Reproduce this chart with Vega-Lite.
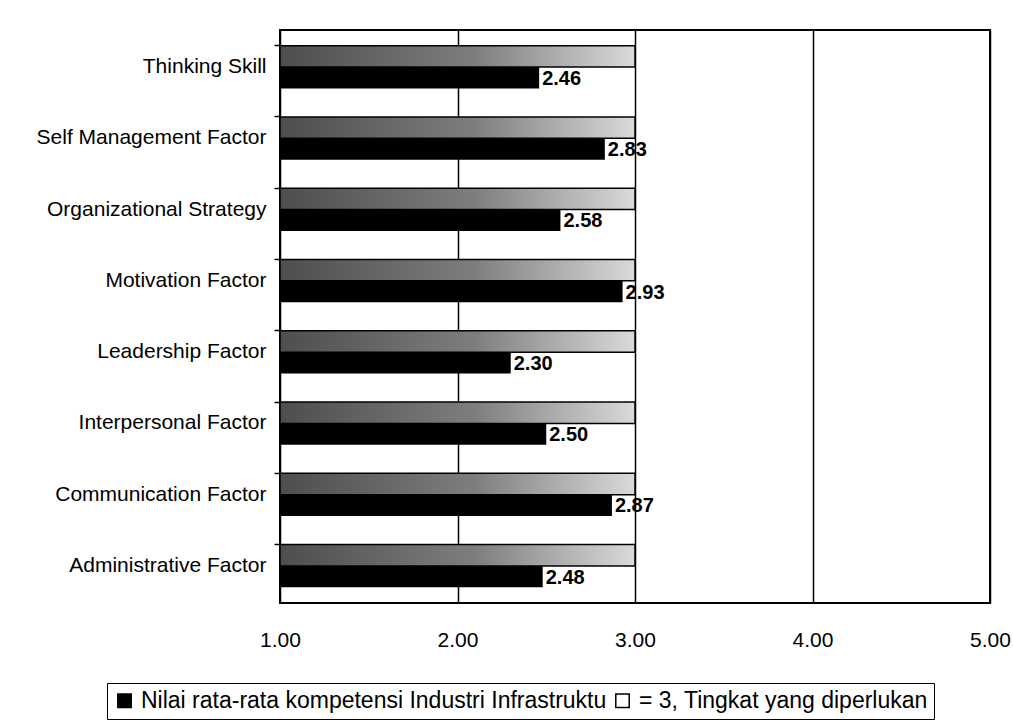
{
  "$schema": "https://vega.github.io/schema/vega-lite/v6.json",
  "autosize": "none",
  "width": 710,
  "height": 573,
  "padding": {"left": 280, "top": 30, "right": 23, "bottom": 117},
  "background": "white",
  "config": {
    "font": "Liberation Sans",
    "view": {"stroke": "black", "strokeWidth": 2},
    "axis": {"labelColor": "black", "labelFont": "Liberation Sans"}
  },
  "data": {
    "values": [
      {"factor": "Thinking Skill", "series": "= 3, Tingkat yang diperlukan", "value": 3},
      {"factor": "Thinking Skill", "series": "Nilai rata-rata kompetensi Industri Infrastruktu", "value": 2.46},
      {"factor": "Self Management Factor", "series": "= 3, Tingkat yang diperlukan", "value": 3},
      {"factor": "Self Management Factor", "series": "Nilai rata-rata kompetensi Industri Infrastruktu", "value": 2.83},
      {"factor": "Organizational Strategy", "series": "= 3, Tingkat yang diperlukan", "value": 3},
      {"factor": "Organizational Strategy", "series": "Nilai rata-rata kompetensi Industri Infrastruktu", "value": 2.58},
      {"factor": "Motivation Factor", "series": "= 3, Tingkat yang diperlukan", "value": 3},
      {"factor": "Motivation Factor", "series": "Nilai rata-rata kompetensi Industri Infrastruktu", "value": 2.93},
      {"factor": "Leadership Factor", "series": "= 3, Tingkat yang diperlukan", "value": 3},
      {"factor": "Leadership Factor", "series": "Nilai rata-rata kompetensi Industri Infrastruktu", "value": 2.30},
      {"factor": "Interpersonal Factor", "series": "= 3, Tingkat yang diperlukan", "value": 3},
      {"factor": "Interpersonal Factor", "series": "Nilai rata-rata kompetensi Industri Infrastruktu", "value": 2.50},
      {"factor": "Communication Factor", "series": "= 3, Tingkat yang diperlukan", "value": 3},
      {"factor": "Communication Factor", "series": "Nilai rata-rata kompetensi Industri Infrastruktu", "value": 2.87},
      {"factor": "Administrative Factor", "series": "= 3, Tingkat yang diperlukan", "value": 3},
      {"factor": "Administrative Factor", "series": "Nilai rata-rata kompetensi Industri Infrastruktu", "value": 2.48}
    ]
  },
  "encoding": {
    "y": {
      "field": "factor",
      "type": "nominal",
      "sort": null,
      "scale": {"paddingInner": 0.4, "paddingOuter": 0.22},
      "axis": {
        "title": null,
        "labelFontSize": 21,
        "labelLimit": 0,
        "labelPadding": 8,
        "tickSize": 6,
        "tickColor": "black",
        "tickWidth": 1.5,
        "bandPosition": 0,
        "domain": false,
        "grid": false
      }
    },
    "yOffset": {
      "field": "series",
      "type": "nominal",
      "scale": {
        "domain": ["= 3, Tingkat yang diperlukan", "Nilai rata-rata kompetensi Industri Infrastruktu"],
        "paddingInner": 0,
        "paddingOuter": 0
      }
    },
    "x": {
      "field": "value",
      "type": "quantitative",
      "scale": {"domain": [1, 5], "zero": false, "nice": false},
      "axis": {
        "title": null,
        "values": [1, 2, 3, 4, 5],
        "format": ".2f",
        "labelFontSize": 21,
        "labelPadding": 26,
        "ticks": false,
        "tickSize": 0,
        "domain": false,
        "grid": true,
        "gridColor": "black",
        "gridWidth": 1.5,
        "gridOpacity": 1,
        "labelFlush": false
      }
    }
  },
  "layer": [
    {
      "transform": [{"filter": "datum.series === '= 3, Tingkat yang diperlukan'"}],
      "mark": {"type": "bar", "stroke": "black", "strokeWidth": 1.5},
      "encoding": {
        "x2": {"datum": 1},
        "fill": {
          "value": {
            "gradient": "linear",
            "x1": 0, "y1": 0, "x2": 1, "y2": 0,
            "stops": [
              {"offset": 0, "color": "#4e4e4e"},
              {"offset": 0.55, "color": "#7e7e7e"},
              {"offset": 1, "color": "#dadada"}
            ]
          }
        }
      }
    },
    {
      "transform": [{"filter": "datum.series === 'Nilai rata-rata kompetensi Industri Infrastruktu'"}],
      "mark": {"type": "bar"},
      "encoding": {
        "x2": {"datum": 1},
        "color": {
          "field": "series",
          "type": "nominal",
          "scale": {
            "domain": ["Nilai rata-rata kompetensi Industri Infrastruktu", "= 3, Tingkat yang diperlukan"],
            "range": ["#000000", "#ffffff"]
          },
          "legend": {
            "title": null,
            "orient": "none",
            "direction": "horizontal",
            "legendX": -173,
            "legendY": 653,
            "strokeColor": "black",
            "padding": 6,
            "symbolType": "square",
            "symbolSize": 180,
            "symbolStrokeColor": "black",
            "symbolStrokeWidth": 1.5,
            "symbolOpacity": 1,
            "labelFontSize": 23,
            "labelColor": "black",
            "labelLimit": 0,
            "labelOffset": 5,
            "columnPadding": 4
          }
        }
      }
    },
    {
      "transform": [{"filter": "datum.series === 'Nilai rata-rata kompetensi Industri Infrastruktu'"}],
      "mark": {"type": "text", "align": "left", "baseline": "middle", "dx": 3, "dy": 1, "fontSize": 20, "fontWeight": "bold", "color": "black"},
      "encoding": {
        "text": {"field": "value", "type": "quantitative", "format": ".2f"}
      }
    }
  ]
}
